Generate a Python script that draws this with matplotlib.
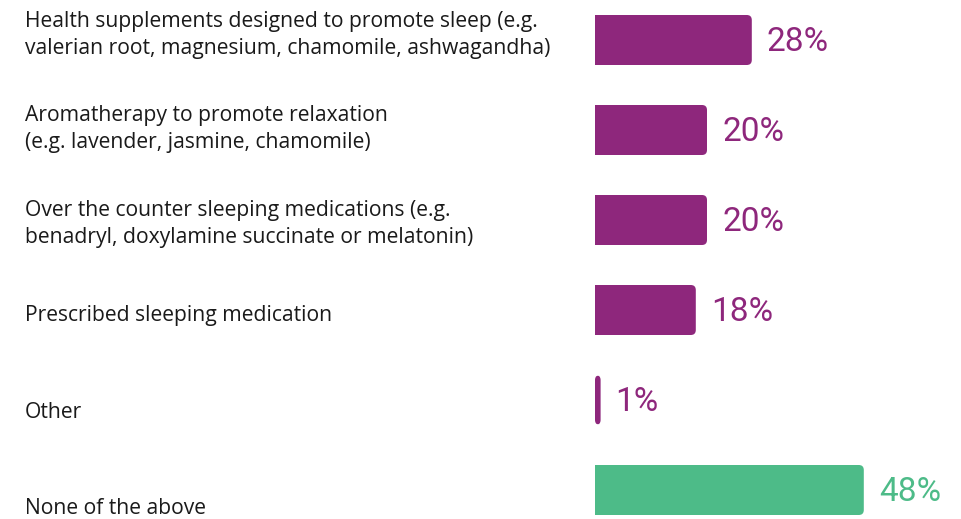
import matplotlib.pyplot as plt
from matplotlib.patches import FancyBboxPatch, Rectangle

plt.rcParams['font.family'] = ['Roboto', 'DejaVu Sans']

labels = [
    "Health supplements designed to promote sleep (e.g.\nvalerian root, magnesium, chamomile, ashwagandha)",
    "Aromatherapy to promote relaxation\n(e.g. lavender, jasmine, chamomile)",
    "Over the counter sleeping medications (e.g.\nbenadryl, doxylamine succinate or melatonin)",
    "Prescribed sleeping medication",
    "Other",
    "None of the above",
]
values = [28, 20, 20, 18, 1, 48]
purple = "#8e277c"
green = "#4dbb88"
colors = [purple, purple, purple, purple, purple, green]

# layout in pixels
W, H = 961, 519
x0 = 595          # where bars start
px_per_pct = 5.6
bar_px = 50
row_px = 90
first_px = 40
label_px = [35, 129, 224, 316, 412, 508]   # label centres from top

fig = plt.figure(figsize=(W / 100, H / 100), dpi=100)
ax = fig.add_axes([x0 / W, 0, 1 - x0 / W, 1])
ax.set_xlim(0, (W - x0) / px_per_pct)
ax.set_ylim((H - first_px) / row_px, -first_px / row_px)
ax.axis("off")

bh = bar_px / row_px
r = 5 / px_per_pct
aspect = px_per_pct / row_px
for i, (v, c) in enumerate(zip(values, colors)):
    box = FancyBboxPatch((0, i - bh / 2), v, bh,
                         boxstyle=f"round,pad=0,rounding_size={r}",
                         mutation_aspect=aspect, fc=c, ec="none")
    ax.add_patch(box)
    if v > 2:
        ax.add_patch(Rectangle((0, i - bh / 2), v / 2, bh, fc=c, ec="none"))
    ax.text(v + 15 / px_per_pct, i + 0.02, f"{v}%", color=c, fontsize=24,
            va="center", ha="left")

for lab, yp in zip(labels, label_px):
    fig.text(25 / W, 1 - yp / H, lab, fontsize=15.2, color="#1a1a1a",
             family=["Open Sans", "DejaVu Sans"],
             va="center", ha="left", linespacing=1.35)

fig.savefig("out.png", dpi=100)
